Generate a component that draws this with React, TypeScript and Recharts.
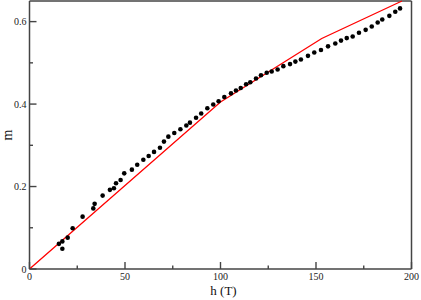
import { ScatterChart, Scatter, XAxis, YAxis } from "recharts";

// measured magnetisation m vs field h (T)
const H_DATA = [
  15.4, 17.2, 17.2, 20.0, 22.6, 27.8, 33.4, 34.1, 38.3, 42.1, 44.2, 45.3, 47.7, 49.6,
  53.6, 56.4, 59.6, 62.4, 65.2, 68.3, 70.4, 72.7, 75.8, 79.0, 82.1, 84.0, 87.2, 89.9,
  93.1, 96.2, 99.0, 102.0, 105.5, 108.1, 110.6, 113.4, 115.6, 118.6, 121.2, 124.2,
  126.8, 129.9, 132.9, 136.4, 139.2, 142.1, 145.8, 149.1, 152.6, 156.3, 160.1, 163.1,
  166.1, 169.2, 172.5, 176.0, 179.2, 182.3, 184.7, 188.4, 191.5, 194.0,
];
const M_DATA = [
  0.061, 0.067, 0.049, 0.076, 0.099, 0.127, 0.147, 0.158, 0.178, 0.192, 0.196, 0.208,
  0.216, 0.232, 0.241, 0.253, 0.265, 0.274, 0.284, 0.294, 0.309, 0.321, 0.33, 0.339,
  0.348, 0.355, 0.367, 0.377, 0.39, 0.399, 0.407, 0.417, 0.426, 0.433, 0.439, 0.448,
  0.453, 0.462, 0.47, 0.476, 0.479, 0.484, 0.492, 0.497, 0.503, 0.508, 0.517, 0.525,
  0.531, 0.54, 0.547, 0.554, 0.56, 0.564, 0.573, 0.58, 0.588, 0.598, 0.605, 0.614,
  0.624, 0.632,
];

// theory curve (red)
const H_FIT = [0, 100, 153, 195];
const M_FIT = [0, 0.405, 0.559, 0.65];

const X_TICKS = [0, 25, 50, 75, 100, 125, 150, 175, 200];
const X_MAJOR = [0, 50, 100, 150, 200];
const Y_TICKS = [0, 0.1, 0.2, 0.3, 0.4, 0.5, 0.6];
const Y_MAJOR = [0, 0.2, 0.4, 0.6];

const points = H_DATA.map((h, i) => ({ h, m: M_DATA[i] }));
const fit = H_FIT.map((h, i) => ({ h, m: M_FIT[i] }));

const FONT = "'Liberation Serif', 'DejaVu Serif', serif";
const FRAME = "#444";

const BottomTick = ({ x, y, payload }: any) => {
  const major = X_MAJOR.includes(payload.value);
  return (
    <g>
      <line x1={x} y1={y} x2={x} y2={y - (major ? 7 : 3.5)} stroke={FRAME} strokeWidth={1.4} />
      {major && (
        <text x={x} y={y + 11} textAnchor="middle" fontSize={10} fontFamily={FONT} fill="#222">
          {payload.value}
        </text>
      )}
    </g>
  );
};

const TopTick = ({ x, y, payload }: any) => {
  const major = X_MAJOR.includes(payload.value);
  return <line x1={x} y1={y} x2={x} y2={y + (major ? 7 : 3.5)} stroke={FRAME} strokeWidth={1.4} />;
};

const LeftTick = ({ x, y, payload }: any) => {
  const major = Y_MAJOR.includes(payload.value);
  return (
    <g>
      <line x1={x} y1={y} x2={x + (major ? 7 : 3.5)} y2={y} stroke={FRAME} strokeWidth={1.4} />
      {major && (
        <text x={x - 3} y={y} dy="0.35em" textAnchor="end" fontSize={10} fontFamily={FONT} fill="#222">
          {payload.value}
        </text>
      )}
    </g>
  );
};

const RightTick = ({ x, y, payload }: any) => {
  const major = Y_MAJOR.includes(payload.value);
  return <line x1={x} y1={y} x2={x - (major ? 7 : 3.5)} y2={y} stroke={FRAME} strokeWidth={1.4} />;
};

const YLabel = ({ viewBox }: any) => {
  const cx = viewBox.x + 8;
  const cy = viewBox.y + viewBox.height / 2;
  return (
    <text x={cx} y={cy} dy="0.3em" textAnchor="middle" fontSize={14} fontFamily={FONT} fill="#111"
      transform={`rotate(-90 ${cx} ${cy})`}>
      m
    </text>
  );
};

const XLabel = ({ viewBox }: any) => (
  <text x={viewBox.x + viewBox.width / 2 + 3} y={viewBox.y + 26} textAnchor="middle" fontSize={13}
    fontFamily={FONT} fill="#111">
    h (T)
  </text>
);

export default function App() {
  return (
    <div style={{ position: "absolute", left: 0, top: 0, background: "#fff" }}>
      <ScatterChart width={421} height={300} margin={{ top: 0, right: 8.5, bottom: 0, left: 0 }}>
        <XAxis
          xAxisId="bottom"
          dataKey="h"
          type="number"
          domain={[0, 200]}
          ticks={X_TICKS}
          interval={0}
          height={31}
          tickSize={0}
          tickMargin={0}
          tickLine={false}
          axisLine={{ stroke: FRAME, strokeWidth: 1.5 }}
          tick={<BottomTick />}
          label={<XLabel />}
        />
        <XAxis
          xAxisId="top"
          orientation="top"
          dataKey="h"
          type="number"
          domain={[0, 200]}
          ticks={X_TICKS}
          interval={0}
          height={1}
          tickSize={0}
          tickMargin={0}
          tickLine={false}
          axisLine={{ stroke: FRAME, strokeWidth: 1.5 }}
          tick={<TopTick />}
        />
        <YAxis
          yAxisId="left"
          dataKey="m"
          type="number"
          domain={[0, 0.65]}
          ticks={Y_TICKS}
          interval={0}
          width={29.5}
          tickSize={0}
          tickMargin={0}
          tickLine={false}
          axisLine={{ stroke: FRAME, strokeWidth: 1.5 }}
          tick={<LeftTick />}
          label={<YLabel />}
        />
        <YAxis
          yAxisId="right"
          orientation="right"
          dataKey="m"
          type="number"
          domain={[0, 0.65]}
          ticks={Y_TICKS}
          interval={0}
          width={1}
          tickSize={0}
          tickMargin={0}
          tickLine={false}
          axisLine={{ stroke: FRAME, strokeWidth: 1.5 }}
          tick={<RightTick />}
        />
        <Scatter
          xAxisId="bottom"
          yAxisId="left"
          data={fit}
          line={{ stroke: "#ff0000", strokeWidth: 1.3 }}
          shape={() => null}
          isAnimationActive={false}
        />
        <Scatter
          xAxisId="bottom"
          yAxisId="left"
          data={points}
          fill="#000"
          shape={(p: any) => <circle cx={p.cx} cy={p.cy} r={2.3} fill="#000" />}
          isAnimationActive={false}
        />
      </ScatterChart>
    </div>
  );
}
